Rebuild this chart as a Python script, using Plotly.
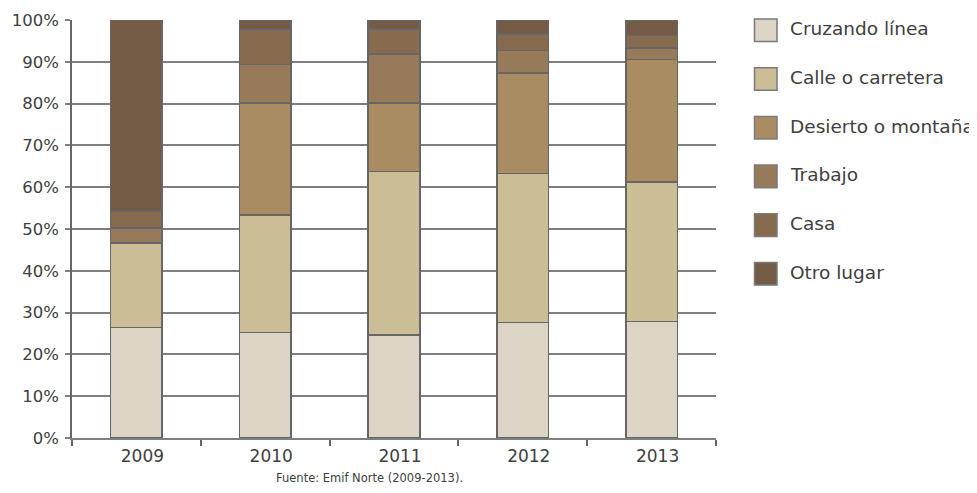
import plotly.graph_objects as go

years = ["2009", "2010", "2011", "2012", "2013"]
series_names = ["Cruzando línea", "Calle o carretera", "Desierto o montaña", "Trabajo", "Casa", "Otro lugar"]
cruzando = [26.4, 25.2, 24.6, 27.6, 27.9]
calle = [20.2, 28.1, 39.1, 35.7, 33.3]
desierto = [0.0, 26.9, 16.5, 24.0, 29.3]
trabajo = [3.7, 9.2, 11.7, 5.4, 2.8]
casa = [4.0, 8.4, 6.0, 4.0, 3.0]
otro = [45.7, 2.2, 2.1, 3.3, 3.7]
colors = ["#dcd5c6", "#cbbd96", "#aa8c63", "#977a5a", "#866b4f", "#735b45"]
source_text = "Fuente: Emif Norte (2009-2013)."

values = [cruzando, calle, desierto, trabajo, casa, otro]

FONT = "DejaVu Sans"
TXT = "#404040"
OFF = 8  # page body margin in the browser
W, H = 977 - OFF, 493 - OFF
L, R, T, B = 72 - OFF, 716 - OFF, 20 - OFF, 438 - OFF


def px(x):
    return (x - OFF - L) / (R - L)


def py(y):
    return (B - (y - OFF)) / (B - T)


fig = go.Figure()
for name, vals, col in zip(series_names, values, colors):
    fig.add_trace(go.Bar(
        x=years, y=vals, name=name, showlegend=False,
        marker=dict(color=col, line=dict(color="#666666", width=1.5)),
    ))

shapes = []
annotations = []
for i, (name, col) in enumerate(zip(series_names, colors)):
    cy = 30.3 + 48.7 * i
    shapes.append(dict(
        type="rect", xref="paper", yref="paper",
        x0=px(754.5), x1=px(777), y0=py(cy + 11.3), y1=py(cy - 11.3),
        fillcolor=col, line=dict(color="#7a7a7a", width=1.5),
    ))
    annotations.append(dict(
        text=name, xref="paper", yref="paper", x=px(788), y=py(cy - 1.5),
        xanchor="left", yanchor="middle", showarrow=False,
        font=dict(size=18.5, color=TXT, family=FONT),
    ))
annotations.append(dict(
    text=source_text, xref="paper", yref="paper", x=px(369), y=py(478),
    xanchor="center", yanchor="middle", showarrow=False,
    font=dict(size=11.5, color=TXT, family=FONT),
))

fig.update_layout(
    barmode="stack",
    bargap=0.6,
    width=W, height=H,
    margin=dict(l=L, r=W - R, t=T, b=H - B, autoexpand=False),
    paper_bgcolor="white", plot_bgcolor="white",
    font=dict(family=FONT, color=TXT, size=16),
    showlegend=False,
    shapes=shapes,
    annotations=annotations,
)

fig.update_yaxes(
    range=[0, 100], tickvals=list(range(0, 101, 10)),
    ticktext=[f"{v}%" for v in range(0, 101, 10)],
    showgrid=True, gridcolor="#7f7f7f", gridwidth=1.5,
    showline=True, linecolor="#666666", linewidth=1.5,
    ticks="outside", ticklen=5, tickcolor="#7f7f7f", tickwidth=1.5,
    zeroline=False, tickfont=dict(size=16.5, color=TXT),
    automargin=False, ticklabelstandoff=3,
)
fig.update_xaxes(
    showline=True, linecolor="#7f7f7f", linewidth=1.5,
    ticks="outside", tickson="boundaries", ticklen=6, tickcolor="#666666", tickwidth=1.5,
    tickfont=dict(size=17, color=TXT),
    automargin=False, ticklabelshift=6, ticklabelstandoff=2,
)

fig.write_html("out.html")
